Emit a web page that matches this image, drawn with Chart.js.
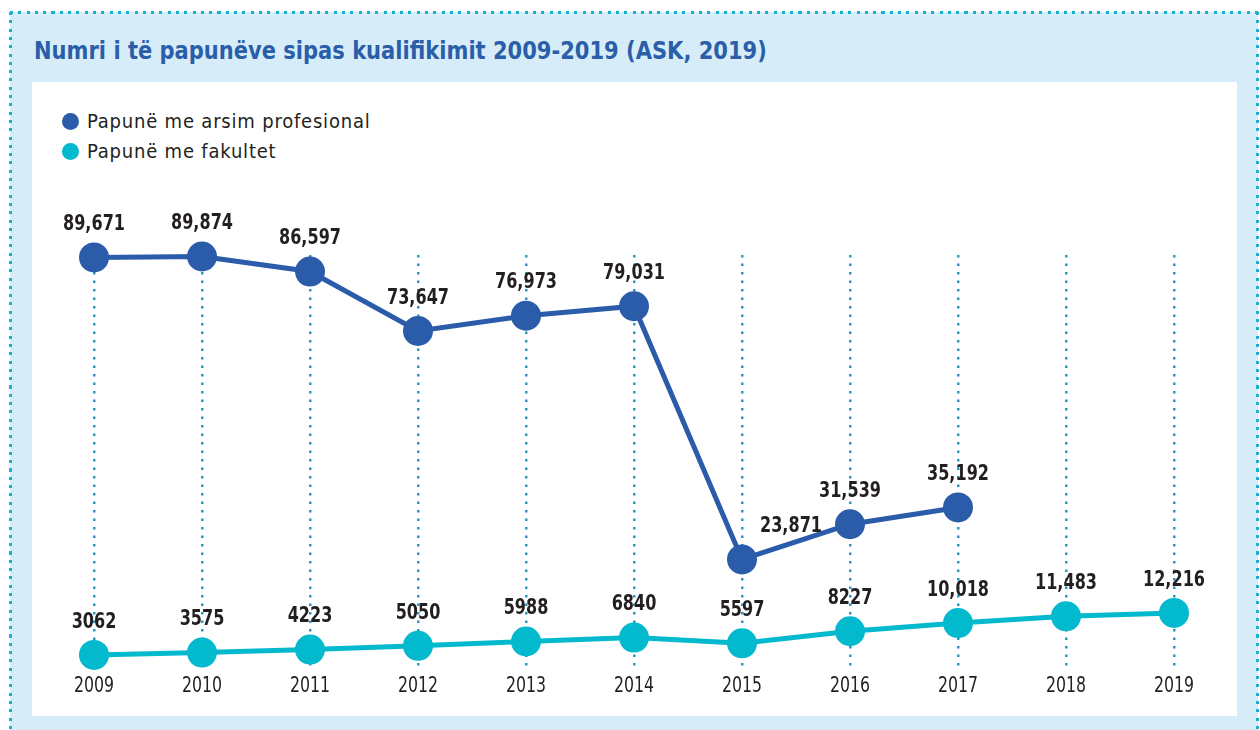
<!DOCTYPE html>
<html>
<head>
<meta charset="utf-8">
<script src="https://cdn.jsdelivr.net/npm/chart.js@4"></script>
<style>
    body { margin: 0; width: 1260px; height: 730px; overflow: hidden; background: #fff; position: relative; }
    .frame { position: absolute; left: 10px; top: 12px; width: 1248px; height: 730px; background: #d6edf9; }
    .dots-h { position: absolute; left: 0; width: 100%; height: 3px; background: repeating-linear-gradient(to right, #16b4cc 0 3px, transparent 3px 8.3px); }
    .dots-v { position: absolute; top: 0; width: 3px; height: 100%; background: repeating-linear-gradient(to bottom, #16b4cc 0 3px, transparent 3px 8.3px); }
    .panel { position: absolute; left: 32px; top: 82px; width: 1205px; height: 634px; background: #fff; }
    .title { position: absolute; left: 34px; top: 36px; font: bold condensed 25px "DejaVu Sans", sans-serif; color: #2a5ea8; transform: scaleX(0.935); transform-origin: left center; white-space: nowrap; }
    .legend { position: absolute; left: 62px; top: 108px; font: condensed 20px "DejaVu Sans", sans-serif; color: #231f20; letter-spacing: 0.8px; }
    .legend div { height: 30px; line-height: 26px; }
    .legend span { display: inline-block; width: 17px; height: 17px; border-radius: 50%; vertical-align: -2px; margin-right: 8px; }
    #chart { position: absolute; left: 0; top: 0; }
</style>
</head>
<body>
<div class="frame">
    <div class="dots-h" style="top:-1px"></div>
    <div class="dots-v" style="left:-1px"></div>
    <div class="dots-v" style="right:-1px"></div>
</div>
<div class="panel"></div>
<div class="title">Numri i të papunëve sipas kualifikimit 2009-2019 (ASK, 2019)</div>
<div class="legend">
    <div><span style="background:#2a5caa"></span>Papunë me arsim profesional</div>
    <div><span style="background:#03b9ce"></span>Papunë me fakultet</div>
</div>
<canvas id="chart" width="1260" height="730"></canvas>

<script>
const years = ['2009', '2010', '2011', '2012', '2013', '2014', '2015', '2016', '2017', '2018', '2019'];
const profesional = [89671, 89874, 86597, 73647, 76973, 79031, 23871, 31539, 35192, null, null];
const fakultet = [3062, 3575, 4223, 5050, 5988, 6840, 5597, 8227, 10018, 11483, 12216];

function formatValue(v) {
    return v >= 10000 ? v.toLocaleString('en-US') : String(v);
}

// no condensed face available, so squeeze the text horizontally
function narrowText(ctx, text, x, y, squeeze) {
    ctx.save();
    ctx.translate(x, y);
    ctx.scale(squeeze, 1);
    ctx.fillText(text, 0, 0);
    ctx.restore();
}

// value labels and year labels (no datalabels plugin available offline)
const textLayer = {
    id: 'textLayer',
    afterDatasetsDraw(chart) {
        const ctx = chart.ctx;
        const xScale = chart.scales.x;
        ctx.save();
        ctx.fillStyle = '#231f20';
        ctx.textAlign = 'center';
        ctx.textBaseline = 'middle';

        ctx.font = 'bold 22px "DejaVu Sans", sans-serif';
        chart.data.datasets.forEach(function(ds, i) {
            chart.getDatasetMeta(i).data.forEach(function(pt, j) {
                const v = ds.data[j];
                if (v === null) return;
                // the 2015 label of the first line sits to the right of the point
                const dx = (i === 0 && j === 6) ? 49 : 0;
                narrowText(ctx, formatValue(v), pt.x + dx, pt.y - 33, 0.73);
            });
        });

        ctx.font = '21px "DejaVu Sans", sans-serif';
        years.forEach(function(y, j) {
            narrowText(ctx, y, xScale.getPixelForValue(j), chart.chartArea.bottom + 18, 0.75);
        });
        ctx.restore();
    }
};

new Chart(document.getElementById('chart'), {
    type: 'line',
    data: {
        labels: years,
        datasets: [{
            label: 'Papunë me arsim profesional',
            data: profesional,
            borderColor: '#2a5caa',
            backgroundColor: '#2a5caa',
            borderWidth: 5,
            pointRadius: 15,
            pointHoverRadius: 15,
            pointBorderWidth: 0,
            clip: false,
            spanGaps: false
        }, {
            label: 'Papunë me fakultet',
            data: fakultet,
            borderColor: '#03b9ce',
            backgroundColor: '#03b9ce',
            borderWidth: 5,
            pointRadius: 15,
            pointHoverRadius: 15,
            pointBorderWidth: 0,
            clip: false
        }]
    },
    options: {
        responsive: false,
        animation: false,
        layout: { padding: { left: 94, right: 86, top: 255, bottom: 61 } },
        plugins: {
            legend: { display: false },
            tooltip: { enabled: false }
        },
        scales: {
            x: {
                offset: false,
                grid: { display: true, color: '#1f9cc8', lineWidth: 2.5, drawTicks: false },
                border: { display: false, dash: [2.5, 6] },
                ticks: { display: false }
            },
            y: {
                display: false,
                min: 0,
                max: 90200
            }
        }
    },
    plugins: [textLayer]
});
</script>
</body>
</html>
